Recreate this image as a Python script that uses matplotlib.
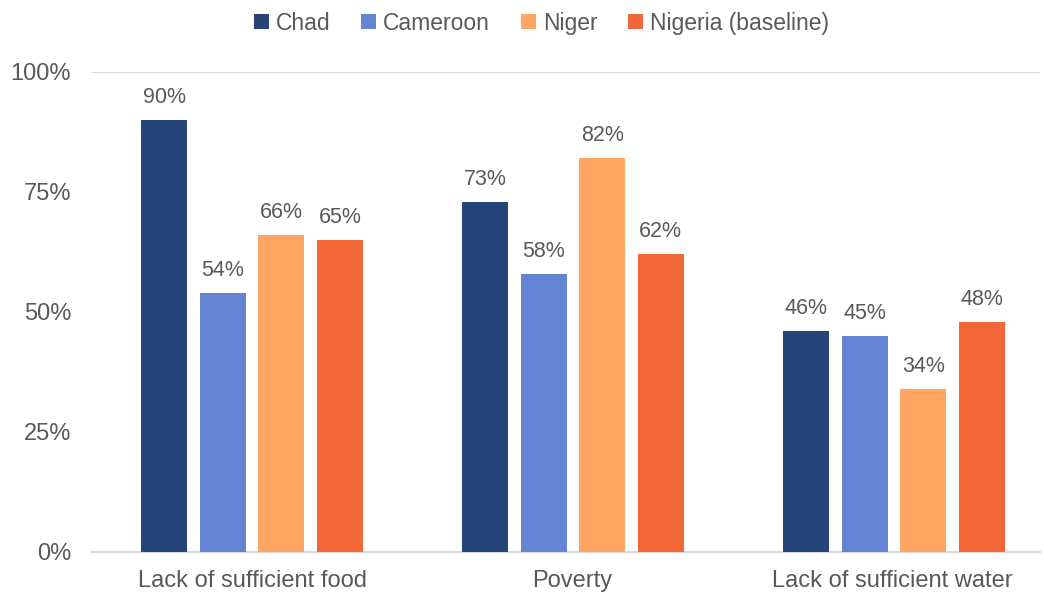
import numpy as np
import matplotlib.pyplot as plt

categories = ['Lack of sufficient food', 'Poverty', 'Lack of sufficient water']
series = ['Chad', 'Cameroon', 'Niger', 'Nigeria (baseline)']
chad = [90, 73, 46]
cameroon = [54, 58, 45]
niger = [66, 82, 34]
nigeria = [65, 62, 48]
colors = ['#264478', '#6483D3', '#FFA662', '#F26738']

plt.rcParams['font.family'] = ['Liberation Sans', 'DejaVu Sans']
grey = '#595959'

fig = plt.figure(figsize=(10.44, 5.94), dpi=100)
ax = fig.add_axes([92 / 1044, 42 / 594, 948 / 1044, 480 / 594])

x = np.arange(len(categories))
pitch = 0.183
width = 0.144
for i, (name, vals, c) in enumerate(zip(series, [chad, cameroon, niger, nigeria], colors)):
    pos = x + (i - 1.5) * pitch + 0.003 * x
    ax.bar(pos, np.array(vals) / 100, width, color=c, label=name, zorder=3)
    for p, v in zip(pos, vals):
        ax.text(p, v / 100 + 0.025, f'{v}%', ha='center', va='bottom',
                fontsize=15.5, color=grey)

ax.set_xlim(-0.5, 2.4625)
ax.set_ylim(0, 1)
ax.set_yticks([0, 0.25, 0.5, 0.75, 1.0])
ax.set_yticklabels(['0%', '25%', '50%', '75%', '100%'])
ax.set_xticks(x)
ax.set_xticklabels(categories)
ax.tick_params(axis='both', length=0, labelsize=17, labelcolor=grey)
ax.tick_params(axis='y', pad=15)
ax.tick_params(axis='x', pad=13)
for s in ['top', 'right', 'left']:
    ax.spines[s].set_visible(False)
ax.spines['bottom'].set_color('#D9D9D9')
ax.spines['bottom'].set_linewidth(1.5)
ax.axhline(1.0, color='#D9D9D9', lw=1.5, zorder=1)

leg = fig.legend(loc='upper center', bbox_to_anchor=(0.5187, 1.015), ncol=4,
                 frameon=False, fontsize=16.5, handlelength=0.65, handleheight=0.65,
                 handletextpad=0.3, columnspacing=1.35)
for t in leg.get_texts():
    t.set_color(grey)

fig.savefig('out.png', dpi=100)
